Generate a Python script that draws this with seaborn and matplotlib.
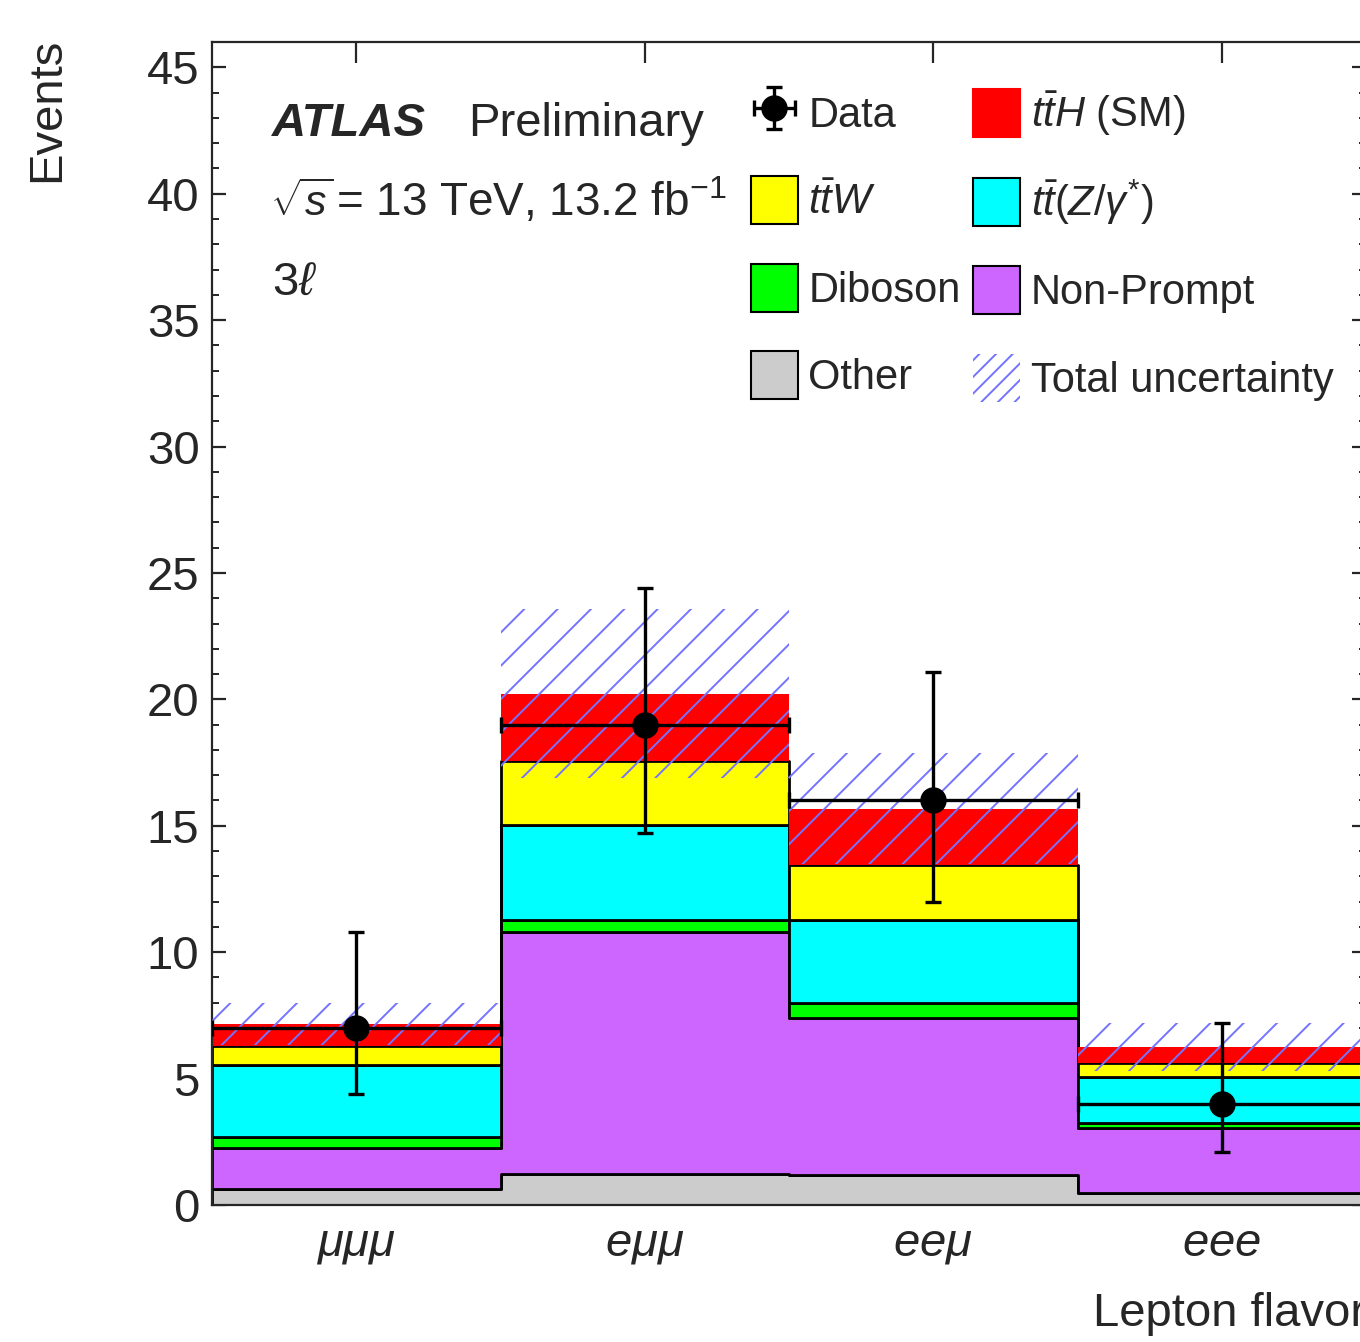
import numpy as np
import pandas as pd
import matplotlib
matplotlib.use("Agg")
import matplotlib.pyplot as plt
from matplotlib.patches import Patch
from matplotlib.ticker import MultipleLocator
import seaborn as sns

# lepton flavour channels (bins)
channels = [r"$\mu\mu\mu$", r"$e\mu\mu$", r"$ee\mu$", r"$eee$"]

# expected events per process, top of the stack first
processes = ["ttH", "ttW", "ttZ", "Diboson", "NonPrompt", "Other"]
tth = [0.87, 2.65, 2.22, 0.65]
ttw = [0.75, 2.53, 2.17, 0.53]
ttz = [2.85, 3.76, 3.28, 1.82]
diboson = [0.42, 0.48, 0.60, 0.20]
nonprompt = [1.64, 9.57, 6.21, 2.56]
other = [0.63, 1.23, 1.19, 0.49]
total_unc = [0.84, 3.35, 2.20, 0.95]

# observed data with asymmetric (poisson) errors
data = [7, 19, 16, 4]
data_err_up = [3.8, 5.4, 5.1, 3.2]
data_err_down = [2.6, 4.3, 4.0, 1.9]

colors = ["#ff0000", "#ffff00", "#00ffff", "#00ff00", "#cc66ff", "#cccccc"]
labels = [r"$t\bar{t}H$ (SM)", r"$t\bar{t}W$", r"$t\bar{t}(Z/\gamma^{*})$",
          "Diboson", "Non-Prompt", "Other"]
hatch_color = "#7373ff"

sns.set_style("ticks")
plt.rcParams["font.family"] = ["Liberation Sans", "DejaVu Sans"]
plt.rcParams["mathtext.fontset"] = "custom"
plt.rcParams["mathtext.rm"] = "Liberation Sans"
plt.rcParams["mathtext.it"] = "Liberation Sans:italic"
plt.rcParams["mathtext.bf"] = "Liberation Sans:bold"
plt.rcParams["hatch.linewidth"] = 1.4

W, H = 1360, 1342
fig = plt.figure(figsize=(W / 100, H / 100), dpi=100)
ax = fig.add_axes([212 / W, 137 / H, (1366 - 212) / W, (1205 - 42) / H])

# long format table for seaborn's stacked histogram
yields = dict(zip(processes, [tth, ttw, ttz, diboson, nonprompt, other]))
rows = []
for proc in processes:
    for i, v in enumerate(yields[proc]):
        rows.append({"bin": i, "process": proc, "events": v})
df = pd.DataFrame(rows)

sns.histplot(data=df, x="bin", weights="events", hue="process",
             hue_order=processes, palette=dict(zip(processes, colors)),
             multiple="stack", element="step", discrete=True, alpha=1,
             edgecolor="black", linewidth=2, legend=False, ax=ax)

# no black outline on the signal
for coll in ax.collections:
    fc = coll.get_facecolor()
    if len(fc) and np.allclose(fc[0][:3], (1, 0, 0)):
        coll.set_edgecolor("none")
        coll.set_linewidth(0)

x = np.arange(len(channels))
total = np.sum([yields[p] for p in processes], axis=0)
unc = np.array(total_unc)
ax.bar(x, 2 * unc, bottom=total - unc, width=1.0, fill=False, hatch="/",
       edgecolor=hatch_color, linewidth=0, zorder=3)

eb = ax.errorbar(x, data, yerr=[data_err_down, data_err_up], xerr=0.5,
                 fmt="o", color="black", ms=18, elinewidth=2.4,
                 capsize=6, capthick=2.4, zorder=5, label="Data")

ax.set_xlim(-0.5, 3.5)
ax.set_ylim(0, 46)
ax.set_xticks(x)
ax.set_xticklabels(channels, fontsize=34)
ax.yaxis.set_major_locator(MultipleLocator(5))
ax.yaxis.set_minor_locator(MultipleLocator(1))
ax.tick_params(axis="y", which="major", direction="in", length=10, width=1.6,
               labelsize=34, pad=9, right=True)
ax.tick_params(axis="y", which="minor", direction="in", length=5, width=1.4,
               right=True)
ax.tick_params(axis="x", which="major", direction="in", length=15, width=1.6,
               pad=12, top=True)
for s in ax.spines.values():
    s.set_linewidth(1.6)

ax.set_xlabel("Lepton flavor", fontsize=34, loc="right")
ax.xaxis.set_label_coords(1.0, -0.075)
ax.set_ylabel("Events", fontsize=34, loc="top")
ax.yaxis.set_label_coords(-0.124, 1.004)

fig.text(272 / W, 1 - 136 / H, "ATLAS", fontsize=34, fontweight="bold",
         fontstyle="italic", va="baseline")
fig.text(468 / W, 1 - 136 / H, "Preliminary", fontsize=34, va="baseline")
fig.text(270 / W, 1 - 216 / H, r"$\sqrt{s}$", fontsize=31, va="baseline")
fig.text(336 / W, 1 - 216 / H, r"= 13 TeV, 13.2 fb$^{-1}$",
         fontsize=33, va="baseline")
fig.text(272 / W, 1 - 295 / H, r"3$\ell$", fontsize=34, va="baseline")

patches = [Patch(facecolor=c, edgecolor="black" if c != "#ff0000" else c,
                 linewidth=1.5) for c in colors]
unc_patch = Patch(fill=False, hatch="//", edgecolor=hatch_color, linewidth=0)
handles = [eb, patches[1], patches[3], patches[5],
           patches[0], patches[2], patches[4], unc_patch]
leg_labels = ["Data", labels[1], labels[3], labels[5],
              labels[0], labels[2], labels[4], "Total uncertainty"]
fig.legend(handles, leg_labels, ncol=2, loc="upper left",
           bbox_to_anchor=(730 / W, 1 - 68 / H), frameon=False, fontsize=30,
           borderpad=0, handlelength=1.13, handleheight=1.39,
           handletextpad=0.25, labelspacing=0.95, columnspacing=0.3)

fig.savefig("out.png", dpi=100)
